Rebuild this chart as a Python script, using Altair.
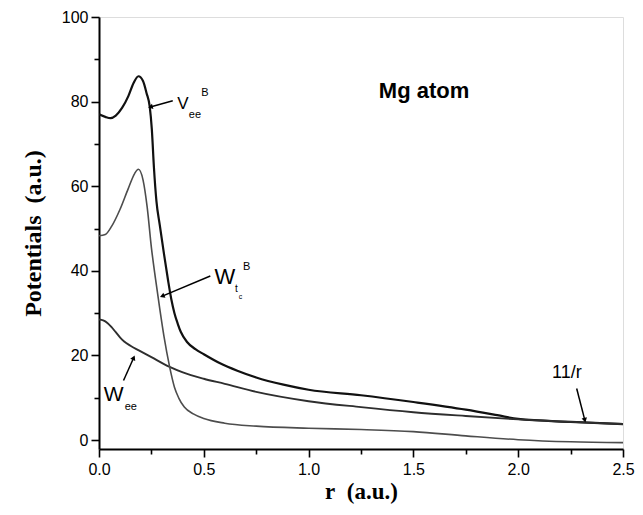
import math
import altair as alt
import pandas as pd

# ---- data ----
r_vee = [0, 0.03, 0.055, 0.08, 0.11, 0.14, 0.165, 0.188, 0.21, 0.227, 0.242, 0.252, 0.262,
         0.274, 0.29, 0.31, 0.33, 0.345, 0.36, 0.375, 0.39, 0.42, 0.46, 0.5, 0.58, 0.66,
         0.75, 0.88, 1.0, 1.25, 1.5, 1.75, 1.9, 2.0, 2.25, 2.5]
v_vee = [77.0, 76.4, 76.1, 76.7, 78.5, 81.3, 84.4, 86.0, 84.9, 82.0, 78.8, 73.5, 64.5,
         56.5, 50.8, 44.0, 37.6, 33.3, 30.0, 27.6, 25.6, 23.2, 21.5, 20.3, 18.1, 16.4,
         14.8, 13.1, 11.9, 10.6, 9.0, 7.2, 5.9, 5.0, 4.3, 3.8]

r_wee = [0, 0.02, 0.04, 0.06, 0.08, 0.1, 0.12, 0.15, 0.19, 0.25, 0.337, 0.4, 0.5, 0.6,
         0.75, 1.0, 1.25, 1.5, 1.75, 2.0, 2.25, 2.5]
v_wee = [28.5, 28.3, 27.7, 26.7, 25.5, 24.3, 23.3, 22.3, 21.2, 19.6, 17.3, 16.0, 14.5, 13.3,
         11.4, 9.2, 7.8, 6.6, 5.7, 4.9, 4.3, 3.8]

r_wtc = [0, 0.03, 0.06, 0.1, 0.14, 0.17, 0.188, 0.21, 0.23, 0.25, 0.27, 0.29, 0.31, 0.337,
         0.36, 0.38, 0.407, 0.45, 0.5, 0.6, 0.75, 1.0, 1.25, 1.5, 1.75, 2.0, 2.25, 2.5]
v_wtc = [48.3, 48.6, 50.5, 54.5, 59.5, 63.0, 64.0, 61.5, 55.0, 45.5, 38.0, 31.0, 24.5, 17.3,
         12.5, 10.0, 7.8, 6.2, 5.1, 4.0, 3.3, 2.8, 2.5, 2.0, 1.0, 0.1, -0.4, -0.6]

series_names = ["Vee", "Wee", "Wtc"]
series_colors = ["#111111", "#2e2e2e", "#4d4d4d"]
series_widths = [2.2, 1.6, 1.5]

# annotation texts (data coordinates)
ann_text = ["V", "ee", "B", "Mg atom", "W", "t", "c", "B", "W", "ee", "11/r"]
ann_r = [0.40, 0.458, 0.505, 1.551, 0.60, 0.655, 0.675, 0.705, 0.07, 0.152, 2.232]
ann_v = [79.4, 76.9, 82.0, 82.4, 38.6, 35.6, 33.9, 40.8, 10.6, 7.8, 15.8]
ann_size = [17, 11, 11, 22, 22, 10, 7, 11, 21, 11, 18]
ann_weight = ["normal", "normal", "normal", "bold", "normal", "normal", "normal", "normal",
              "normal", "normal", "normal"]

# arrows: tail -> tip
arr_r1 = [0.352, 0.531, 0.117, 2.279]
arr_v1 = [80.2, 38.8, 14.1, 12.2]
arr_r2 = [0.249, 0.305, 0.164, 2.317]
arr_v2 = [78.8, 34.1, 19.3, 4.9]

W, H = 524, 432
XMIN, XMAX = 0, 2.5
YMIN, YMAX = -2.1, 100

frames = []
for name, rr, vv in [("Vee", r_vee, v_vee), ("Wee", r_wee, v_wee), ("Wtc", r_wtc, v_wtc)]:
    frames.append(pd.DataFrame({"r": rr, "v": vv, "s": name}))
lines_df = pd.concat(frames, ignore_index=True)

xs = alt.Scale(domain=[XMIN, XMAX], nice=False, zero=False)
ys = alt.Scale(domain=[YMIN, YMAX], nice=False, zero=False)

sans = "Liberation Sans"
serif = "Liberation Serif"

xaxis = alt.Axis(
    values=[i * 0.25 for i in range(11)],
    labelExpr="datum.value % 0.5 === 0 ? format(datum.value, '.1f') : ''",
    title="r\u00a0 (a.u.)", titleFont=serif, titleFontSize=23, titleFontWeight="bold",
    titleColor="black", titlePadding=3,
    labelFont=sans, labelFontSize=16, labelColor="black", labelPadding=4,
    domainColor="black", domainWidth=2, tickColor="black", tickWidth=1.6,
    tickSize={"condition": {"test": "datum.value % 0.5 === 0", "value": 8}, "value": 5},
    grid=False, labelFlush=False, labelOverlap=False,
)
yaxis = alt.Axis(
    values=[i * 10 for i in range(11)],
    labelExpr="datum.value % 20 === 0 ? format(datum.value, 'd') : ''",
    title="Potentials\u00a0 (a.u.)", titleFont=serif, titleFontSize=24, titleFontWeight="bold",
    titleColor="black", titlePadding=16,
    labelFont=sans, labelFontSize=16, labelColor="black", labelPadding=3,
    domainColor="black", domainWidth=2, tickColor="black", tickWidth=1.6,
    tickSize={"condition": {"test": "datum.value % 20 === 0", "value": 8}, "value": 5},
    grid=False, labelFlush=False, labelOverlap=False,
)

lines = alt.Chart(lines_df).mark_line(interpolate="monotone", clip=True).encode(
    x=alt.X("r:Q", scale=xs, axis=xaxis),
    y=alt.Y("v:Q", scale=ys, axis=yaxis),
    color=alt.Color("s:N", scale=alt.Scale(domain=series_names, range=series_colors), legend=None),
    strokeWidth=alt.StrokeWidth("s:N", scale=alt.Scale(domain=series_names, range=series_widths),
                                legend=None),
    detail="s:N",
)

ann_df = pd.DataFrame({"t": ann_text, "r": ann_r, "v": ann_v, "size": ann_size, "w": ann_weight})
texts = []
for wgt in ["normal", "bold"]:
    sub = ann_df[ann_df["w"] == wgt]
    texts.append(
        alt.Chart(sub).mark_text(font=sans, fontWeight=wgt, color="black", align="center",
                                 baseline="middle").encode(
            x=alt.X("r:Q", scale=xs), y=alt.Y("v:Q", scale=ys), text="t:N",
            size=alt.Size("size:Q", scale=None, legend=None),
        )
    )

# arrow heads: angle computed in screen space
px_per_x = W / (XMAX - XMIN)
px_per_y = H / (YMAX - YMIN)
angles = []
for a1, b1, a2, b2 in zip(arr_r1, arr_v1, arr_r2, arr_v2):
    dx = (a2 - a1) * px_per_x
    dy = -(b2 - b1) * px_per_y
    angles.append(math.degrees(math.atan2(dx, -dy)) % 360)
arr_df = pd.DataFrame({"r1": arr_r1, "v1": arr_v1, "r2": arr_r2, "v2": arr_v2, "ang": angles})

arrow_lines = alt.Chart(arr_df).mark_rule(color="black", strokeWidth=1.5).encode(
    x=alt.X("r1:Q", scale=xs), y=alt.Y("v1:Q", scale=ys),
    x2="r2:Q", y2="v2:Q",
)
arrow_heads = alt.Chart(arr_df).mark_point(shape="triangle", filled=True, color="black",
                                           size=30, opacity=1).encode(
    x=alt.X("r2:Q", scale=xs), y=alt.Y("v2:Q", scale=ys),
    angle=alt.Angle("ang:Q", scale=None),
)

chart = alt.layer(lines, arrow_lines, arrow_heads, *texts).properties(
    width=W, height=H,
    autosize=alt.AutoSizeParams(type="none"),
    padding={"left": 91, "top": 9, "right": 12, "bottom": 58},
).configure_view(stroke="black", strokeWidth=1.5).configure(background="white")

chart.save("out.html", embed_options={"renderer": "svg", "actions": False})
